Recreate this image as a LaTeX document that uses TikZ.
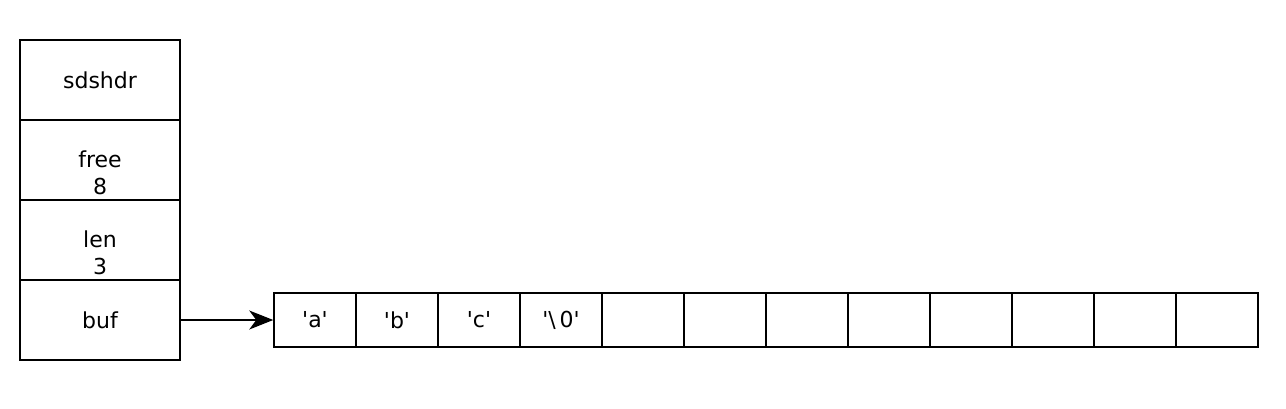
\documentclass[tikz,border=0pt]{standalone}
\usepackage{fontspec}
\newfontfamily\sdsfont{DejaVu Sans}
\usetikzlibrary{positioning,arrows.meta}

\begin{document}
\begin{tikzpicture}[x=1pt,y=-1pt,
  field/.style={draw,line width=1.5pt,minimum width=160pt,minimum height=80pt,inner sep=0pt,
    align=center,font=\sdsfont\fontsize{22}{27}\selectfont},
  lbl/.style={align=center,inner sep=0pt,font=\sdsfont\fontsize{22}{27}\selectfont},
  cell/.style={draw,line width=1.5pt,minimum width=82pt,minimum height=54pt,inner sep=0pt,
    font=\sdsfont\fontsize{22}{27}\selectfont},
  arr/.style={-{Stealth[length=24pt,width=19pt,inset=7pt]},line width=1.5pt}]
  \useasboundingbox (0,0) rectangle (1286,408);

  % sdshdr structure
  \node[field] (hdr) at (100,80) {sdshdr};
  \node[field,label={[lbl,yshift=-13pt]center:free\\8}] (free) at (100,160) {};
  \node[field,label={[lbl,yshift=-13pt]center:len\\3}] (len) at (100,240) {};
  \node[field] (buf) at (100,320) {buf};

  % buf array
  \foreach \i/\t in {1/'a',2/'b',3/'c',4/'\textbackslash\,0',5/,6/,7/,8/,9/,10/,11/,12/}
    \node[cell] (c\i) at ({274+82*\i-41},320) {\t};

  \draw[arr] (buf) -- (c1);
\end{tikzpicture}
\end{document}
